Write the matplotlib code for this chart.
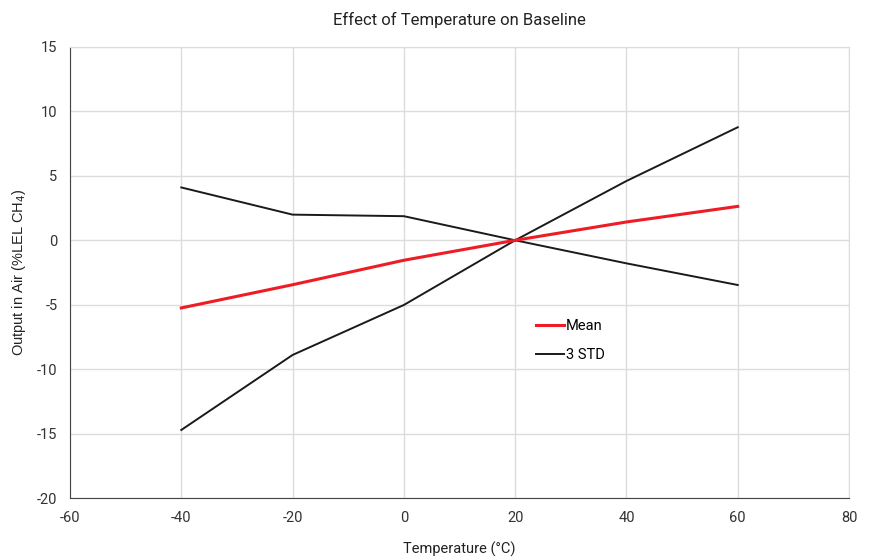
import matplotlib
matplotlib.use('Agg')
import matplotlib.pyplot as plt

# temperature points (degC)
temps = [-40, -20, 0, 20, 40, 60]
mean_vals = [-5.25, -3.45, -1.55, 0.0, 1.42, 2.63]
std_upper = [4.1, 1.99, 1.87, 0.0, -1.79, -3.47]
std_lower = [-14.72, -8.9, -5.02, 0.0, 4.6, 8.77]

x_ticks = [-60, -40, -20, 0, 20, 40, 60, 80]
y_ticks = [-20, -15, -10, -5, 0, 5, 10, 15]

plt.rcParams['font.family'] = ['Roboto', 'DejaVu Sans']
plt.rcParams['axes.unicode_minus'] = False

fig = plt.figure(figsize=(8.74, 5.6), dpi=100)
ax = fig.add_axes([0.0801, 0.1107, 0.8913, 0.8054])

ax.plot(temps, mean_vals, color='#ee1c25', lw=2.2, label='Mean', zorder=3)
ax.plot(temps, std_upper, color='#1a1a1a', lw=1.4, label='3 STD', zorder=2)
ax.plot(temps, std_lower, color='#1a1a1a', lw=1.4, zorder=2)

ax.set_xlim(-60, 80)
ax.set_ylim(-20, 15)
ax.set_xticks(x_ticks)
ax.set_yticks(y_ticks)
ax.grid(True, color='#dcdcdc', lw=1)
ax.set_axisbelow(True)
ax.tick_params(length=0, labelsize=10.5, colors='#333333', pad=9)

for s in ['top', 'right']:
    ax.spines[s].set_color('#dcdcdc')
for s in ['left', 'bottom']:
    ax.spines[s].set_color('#444444')

ax.set_title('Effect of Temperature on Baseline', fontsize=12, color='#222222', pad=16)
ax.set_xlabel('Temperature (\u00b0C)', fontsize=10.5, color='#222222', labelpad=12)
ax.set_ylabel('Output in Air (%LEL CH$_4$)', fontsize=10.5, color='#222222',
              family=['Liberation Sans', 'DejaVu Sans'])
ax.yaxis.set_label_coords(-0.054, 0.5)

ax.legend(loc='upper left', bbox_to_anchor=(0.598, 0.397), frameon=False,
          fontsize=10.5, handlelength=1.9, handletextpad=0.15,
          borderpad=0, borderaxespad=0, labelspacing=1.05)

fig.savefig('out.png', dpi=100)
